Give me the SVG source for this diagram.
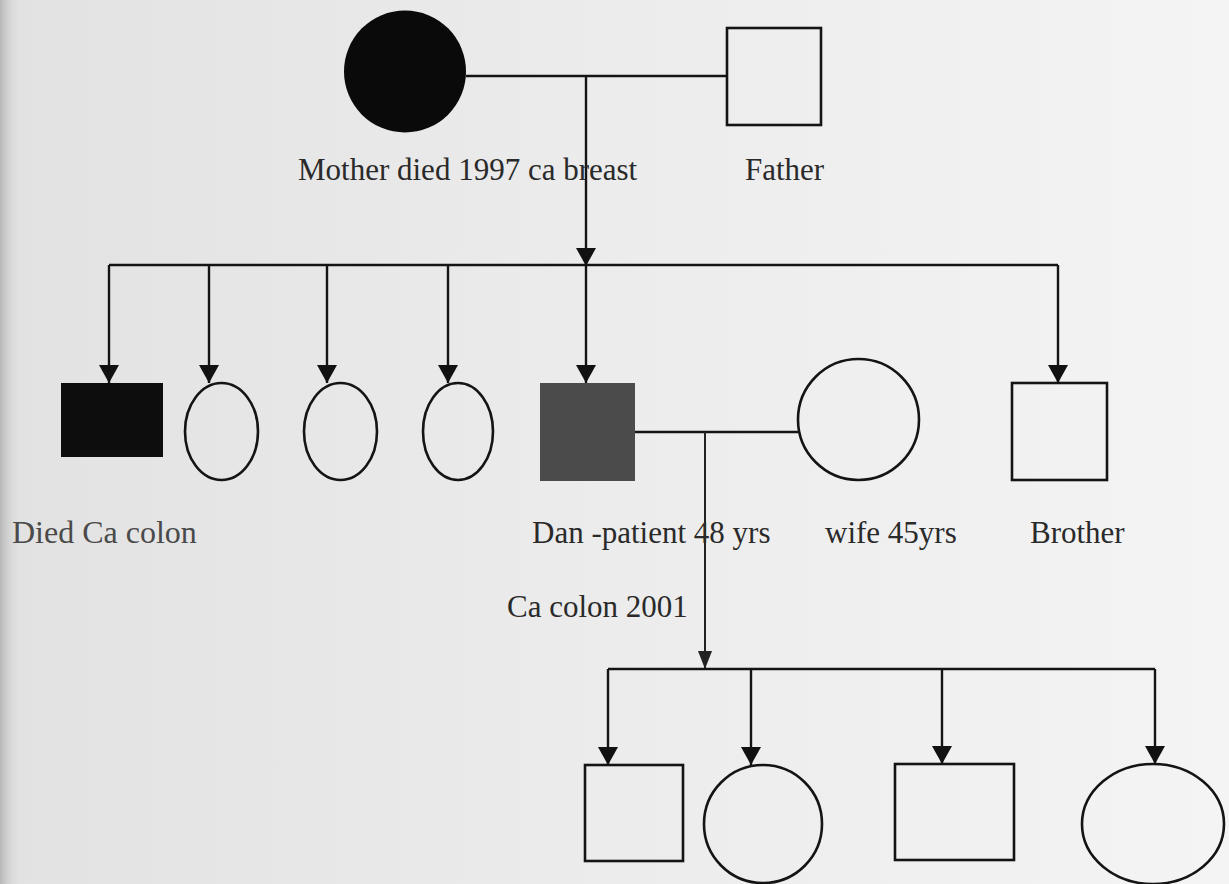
<svg xmlns="http://www.w3.org/2000/svg" width="1229" height="884" viewBox="0 0 1229 884">
<defs>
<linearGradient id="bg" x1="0" y1="0" x2="1" y2="0">
<stop offset="0" stop-color="#e2e2e2"/>
<stop offset="0.5" stop-color="#ececec"/>
<stop offset="1" stop-color="#f4f4f4"/>
</linearGradient>
<linearGradient id="edge" x1="0" y1="0" x2="1" y2="0">
<stop offset="0" stop-color="#b8b8b8"/>
<stop offset="1" stop-color="#e2e2e2" stop-opacity="0"/>
</linearGradient>
<marker id="arr" markerUnits="userSpaceOnUse" markerWidth="22" markerHeight="20" refX="18" refY="10" orient="auto">
<path d="M0,0 L18,10 L0,20 Z" fill="#111"/>
</marker>
<marker id="arrs" markerUnits="userSpaceOnUse" markerWidth="18" markerHeight="16" refX="18" refY="7" orient="auto">
<path d="M0,0 L18,7 L0,14 Z" fill="#222"/>
</marker>
</defs>
<style>
.ln{stroke:#141414;stroke-width:2.4;fill:none}
.ar{stroke:#141414;stroke-width:2.4;fill:none;marker-end:url(#arr)}
.sh{stroke:#141414;stroke-width:2.6;fill:none}
.t{font-family:"Liberation Serif","Times New Roman",serif;font-size:31px;fill:#2a2a2a}
</style>
<rect x="0" y="0" width="1229" height="884" fill="url(#bg)"/>
<rect x="0" y="0" width="22" height="884" fill="url(#edge)"/>

<g id="connectors">
<line class="ln" x1="466" y1="76" x2="727" y2="76"/>
<line class="ar" x1="586" y1="76" x2="586" y2="266"/>
<line class="ln" x1="109" y1="265" x2="1058" y2="265"/>
<line class="ar" x1="109" y1="265" x2="109" y2="383"/>
<line class="ar" x1="209" y1="265" x2="209" y2="383"/>
<line class="ar" x1="327" y1="265" x2="327" y2="383"/>
<line class="ar" x1="448" y1="265" x2="448" y2="383"/>
<line class="ar" x1="586" y1="265" x2="586" y2="383"/>
<line class="ar" x1="1058" y1="265" x2="1058" y2="383"/>
<line class="ln" x1="635" y1="432" x2="798" y2="432"/>
<line x1="705" y1="432" x2="705" y2="669" stroke="#222" stroke-width="2" marker-end="url(#arrs)"/>
<line class="ln" x1="608" y1="669" x2="1155" y2="669"/>
<line class="ar" x1="608" y1="669" x2="608" y2="765"/>
<line class="ar" x1="751" y1="669" x2="751" y2="765"/>
<line class="ar" x1="942" y1="669" x2="942" y2="764"/>
<line class="ar" x1="1155" y1="669" x2="1155" y2="764"/>
</g>

<g id="mother">
<circle cx="405" cy="71.5" r="61" fill="#0a0a0a"/>
<text class="t" x="298" y="180">Mother died 1997 ca breast</text>
</g>
<g id="father">
<rect class="sh" x="727" y="28" width="94" height="97"/>
<text class="t" x="745" y="180">Father</text>
</g>

<g id="brother-died">
<rect x="61" y="383" width="102" height="74" fill="#0d0d0d"/>
<text class="t" x="12" y="543" style="font-size:32px;fill:#4a4a4a">Died Ca colon</text>
</g>
<g id="sister1"><ellipse class="sh" cx="221.5" cy="431.5" rx="36.5" ry="48.5"/></g>
<g id="sister2"><ellipse class="sh" cx="340.5" cy="431.5" rx="36.5" ry="48.5"/></g>
<g id="sister3"><ellipse class="sh" cx="458" cy="431.5" rx="35" ry="48.5"/></g>
<g id="dan">
<rect x="540" y="383" width="95" height="98" fill="#4b4b4b"/>
<text class="t" x="532" y="543">Dan -patient 48 yrs</text>
<text class="t" x="507" y="617">Ca colon 2001</text>
</g>
<g id="wife">
<ellipse class="sh" cx="858.5" cy="419.5" rx="60.5" ry="60.5"/>
<text class="t" x="825" y="543">wife 45yrs</text>
</g>
<g id="brother">
<rect class="sh" x="1012" y="383" width="95" height="97"/>
<text class="t" x="1030" y="543">Brother</text>
</g>

<g id="child1"><rect class="sh" x="585" y="765" width="98" height="96"/></g>
<g id="child2"><ellipse class="sh" cx="763" cy="824" rx="59" ry="59"/></g>
<g id="child3"><rect class="sh" x="895" y="764" width="119" height="96"/></g>
<g id="child4"><ellipse class="sh" cx="1153" cy="824" rx="71" ry="60"/></g>
</svg>
